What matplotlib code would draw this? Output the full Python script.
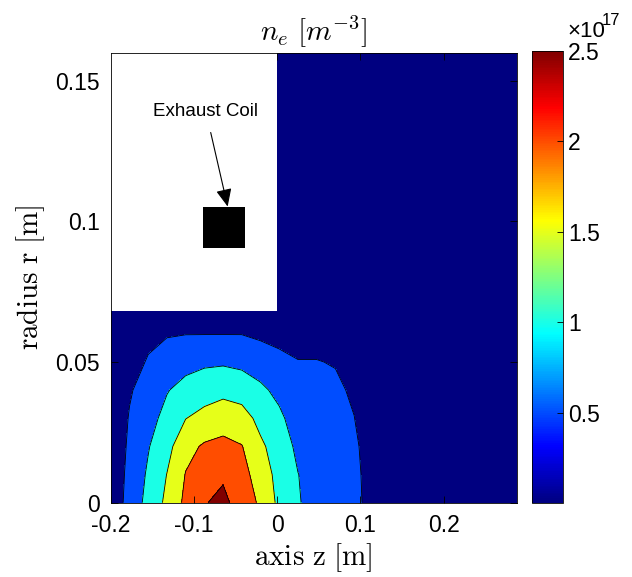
import numpy as np
import matplotlib
matplotlib.use('Agg')
import matplotlib.pyplot as plt
from matplotlib.colors import LinearSegmentedColormap, Normalize
from matplotlib.patches import Rectangle
import matplotlib.cm as cm

plt.rcParams['font.family'] = ['Liberation Sans', 'DejaVu Sans']
plt.rcParams['mathtext.fontset'] = 'cm'

# grid of the simulation (axial z, radial r), metres
z_nodes = [-0.2, -0.1775, -0.155, -0.1325, -0.11, -0.0875, -0.065, -0.0425,
           -0.02, 0.0025, 0.025, 0.0475, 0.07, 0.0925, 0.115, 0.1375, 0.288]
r_nodes = [0.0, 0.01, 0.02, 0.03, 0.04, 0.05, 0.06, 0.07, 0.08, 0.16]

# electron density in units of 1e17 m^-3, one row per r node
ne = [
    [0.15, 0.68, 1.15, 1.61, 2.11, 2.485, 2.56, 2.39, 1.89, 1.39, 1.03, 0.85, 0.72, 0.58, 0.39, 0.20, 0.02],
    [0.15, 0.63, 1.07, 1.51, 2.02, 2.25, 2.466, 2.20, 1.73, 1.36, 1.01, 0.78, 0.67, 0.57, 0.38, 0.20, 0.02],
    [0.14, 0.58, 0.97, 1.34, 1.85, 2.06, 2.13, 2.02, 1.58, 1.29, 0.89, 0.71, 0.62, 0.55, 0.36, 0.19, 0.02],
    [0.14, 0.53, 0.82, 1.16, 1.49, 1.65, 1.78, 1.69, 1.37, 1.10, 0.76, 0.64, 0.58, 0.505, 0.33, 0.18, 0.02],
    [0.13, 0.46, 0.68, 0.97, 1.18, 1.29, 1.37, 1.30, 1.10, 0.87, 0.63, 0.57, 0.55, 0.46, 0.29, 0.17, 0.02],
    [0.12, 0.36, 0.53, 0.69, 0.83, 0.92, 0.94, 0.88, 0.75, 0.57, 0.51, 0.51, 0.485, 0.36, 0.25, 0.15, 0.02],
    [0.10, 0.26, 0.42, 0.47, 0.49, 0.49, 0.49, 0.49, 0.42, 0.42, 0.40, 0.40, 0.36, 0.26, 0.21, 0.13, 0.02],
    [0.08, 0.19, 0.32, 0.37, 0.39, 0.40, 0.40, 0.39, 0.37, 0.33, 0.30, 0.30, 0.26, 0.20, 0.18, 0.12, 0.02],
    [0.06, 0.17, 0.22, 0.27, 0.29, 0.30, 0.30, 0.29, 0.27, 0.23, 0.20, 0.20, 0.19, 0.17, 0.16, 0.10, 0.02],
    [0.02, 0.03, 0.03, 0.03, 0.03, 0.03, 0.03, 0.03, 0.03, 0.03, 0.03, 0.03, 0.03, 0.03, 0.03, 0.03, 0.02],
]
levels = [0.5, 1.0, 1.5, 2.0, 2.5]
cmin, cmax = 0.0, 2.5

# vacuum region and coil cross-section (z0, z1, r0, r1)
vessel_cut = (-0.2, 0.0, 0.068, 0.16)
coil = (-0.0895, -0.0387, 0.0905, 0.1053)

# MATLAB style jet
jet = LinearSegmentedColormap.from_list(
    'mjet', [(0, (0, 0, 0.5)), (0.125, (0, 0, 1)), (0.375, (0, 1, 1)),
             (0.625, (1, 1, 0)), (0.875, (1, 0, 0)), (1, (0.5, 0, 0))])
norm = Normalize(cmin, cmax)

Z, R = np.meshgrid(z_nodes, r_nodes)
NE = np.array(ne)

fig = plt.figure(figsize=(6.32, 5.77), dpi=100)
ax = fig.add_axes([0.1753, 0.1288, 0.6423, 0.7799])

bounds = [cmin] + levels + [NE.max() + 0.1]
fill_colors = [jet(norm(b)) for b in bounds[:-1]]
ax.contourf(Z, R, NE, levels=bounds, colors=fill_colors, zorder=1)
ax.contour(Z, R, NE, levels=levels, colors='k', linewidths=0.6, zorder=1.5)

z0, z1, r0, r1 = vessel_cut
ax.add_patch(Rectangle((z0, r0), z1 - z0, r1 - r0, facecolor='white', edgecolor='none', zorder=2))
z0, z1, r0, r1 = coil
ax.add_patch(Rectangle((z0, r0), z1 - z0, r1 - r0, facecolor='black', edgecolor='none', zorder=2.2))

ax.annotate('Exhaust Coil', xy=(-0.0595, 0.1053), xytext=(-0.0856, 0.139),
            ha='center', va='center', fontsize=13.5, zorder=5,
            arrowprops=dict(arrowstyle='-|>,head_length=0.9,head_width=0.4',
                            color='k', lw=0.8, shrinkA=7, shrinkB=0, mutation_scale=12))

ax.set_xlim(-0.2, 0.288)
ax.set_ylim(0, 0.16)
ax.set_xticks([-0.2, -0.1, 0, 0.1, 0.2])
ax.set_xticklabels(['-0.2', '-0.1', '0', '0.1', '0.2'])
ax.set_yticks([0, 0.05, 0.1, 0.15])
ax.set_yticklabels(['0', '0.05', '0.1', '0.15'])
ax.tick_params(direction='in', top=True, right=True, labelsize=16.5, length=5, width=0.6, pad=8)
for s in ax.spines.values():
    s.set_linewidth(0.6)
    s.set_zorder(3)
ax.set_xlabel(r'$\mathrm{axis\ z\ [m]}$', fontsize=21, labelpad=3)
ax.set_ylabel(r'$\mathrm{radius\ r\ [m]}$', fontsize=21, labelpad=6)
ax.set_title(r'$n_e\ [m^{-3}]$', fontsize=21, pad=9)

cax = fig.add_axes([0.8413, 0.1277, 0.049, 0.7844])
cb = fig.colorbar(cm.ScalarMappable(norm=norm, cmap=jet), cax=cax)
cb.set_ticks([0.5, 1.0, 1.5, 2.0, 2.5])
cb.set_ticklabels(['0.5', '1', '1.5', '2', '2.5'])
cax.tick_params(direction='in', labelsize=16.5, length=4, width=0.6, pad=4)
cb.outline.set_linewidth(0.6)
fig.text(0.898, 0.927, '\u00d710', fontsize=16, ha='left', va='bottom')
fig.text(0.952, 0.952, '17', fontsize=12, ha='left', va='bottom')

fig.savefig('out.png', dpi=100)
